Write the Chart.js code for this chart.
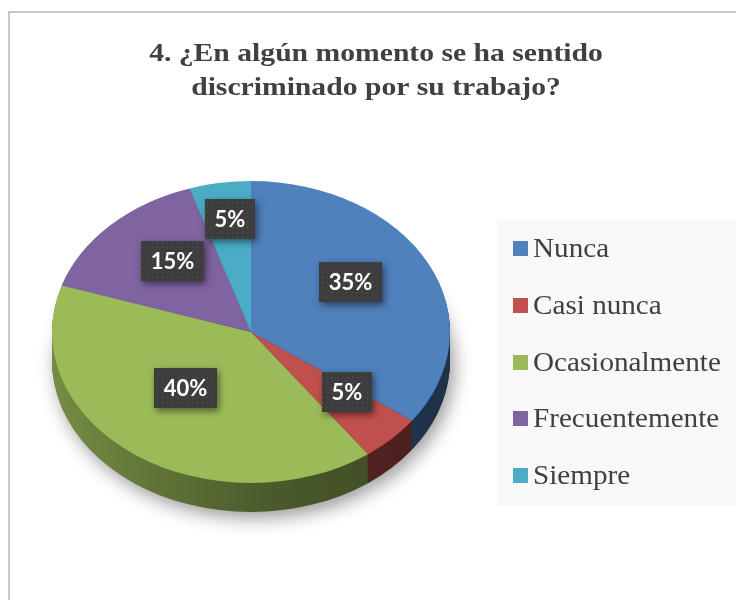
<!DOCTYPE html>
<html>
<head>
<meta charset="utf-8">
<script src="https://cdn.jsdelivr.net/npm/chart.js@4.4.0/dist/chart.umd.min.js"></script>
<style>
  html, body { margin: 0; padding: 0; background: #fff; }
  #wrap { width: 736px; height: 600px; }
</style>
</head>
<body>
<div id="wrap"><canvas id="mycanvas" width="736" height="600"></canvas></div>
<script>
var titleLines = ['4. ¿En algún momento se ha sentido', 'discriminado por su trabajo?'];
var categories = ['Nunca', 'Casi nunca', 'Ocasionalmente', 'Frecuentemente', 'Siempre'];
var percentages = [35, 5, 40, 15, 5];
var sliceColors = ['#4f81bd', '#c0504d', '#9bbb59', '#8064a2', '#4bacc6'];

// where the tilted pie sits on the page
var pieX = 251, pieY = 332, radX = 199, radY = 151, depth = 29;

function shade(hex, f) {
  var n = parseInt(hex.slice(1), 16);
  var r = Math.round(((n >> 16) & 255) * f);
  var g = Math.round(((n >> 8) & 255) * f);
  var b = Math.round((n & 255) * f);
  return 'rgb(' + r + ',' + g + ',' + b + ')';
}

function pieTransform(ctx, arc, dy) {
  ctx.translate(pieX, pieY + dy);
  ctx.scale(radX / arc.outerRadius, radY / arc.outerRadius);
  ctx.translate(-arc.x, -arc.y);
}

// little dotted texture of the label boxes
var dots = document.createElement('canvas');
dots.width = 5; dots.height = 5;
var dctx = dots.getContext('2d');
dctx.fillStyle = '#3d3d3d';
dctx.fillRect(0, 0, 5, 5);
dctx.fillStyle = '#555555';
dctx.fillRect(2, 2, 1, 1);

var tiltPlugin = {
  id: 'tilt',
  beforeDraw: function(chart) {
    var ctx = chart.ctx;
    ctx.save();
    ctx.fillStyle = '#fff';
    ctx.fillRect(0, 0, chart.width, chart.height);
    ctx.strokeStyle = '#c8c8c8';
    ctx.lineWidth = 2;
    ctx.strokeRect(9, 12, 800, 700);

    // title
    ctx.fillStyle = '#404040';
    ctx.font = 'bold 26px "Liberation Serif"';
    ctx.textAlign = 'center';
    ctx.textBaseline = 'alphabetic';
    titleLines.forEach(function(t, i) {
      ctx.save();
      ctx.translate(376, 61 + i * 33.5);
      ctx.scale(1.14, 1);
      ctx.fillText(t, 0, 0);
      ctx.restore();
    });
    ctx.restore();
  },
  beforeDatasetsDraw: function(chart) {
    var ctx = chart.ctx;
    var arcs = chart.getDatasetMeta(0).data;
    var a0 = arcs[0];
    for (var d = depth; d >= 1; d--) {
      ctx.save();
      pieTransform(ctx, a0, d);
      if (d === depth) {
        ctx.shadowColor = 'rgba(0,0,0,0.4)';
        ctx.shadowBlur = 18;
        ctx.shadowOffsetY = 6;
        ctx.shadowOffsetX = 4;
      }
      arcs.forEach(function(arc, i) {
        var g = ctx.createLinearGradient(a0.x - a0.outerRadius, 0, a0.x + a0.outerRadius, 0);
        g.addColorStop(0, shade(sliceColors[i], 0.75));
        g.addColorStop(0.55, shade(sliceColors[i], 0.48));
        g.addColorStop(1, shade(sliceColors[i], 0.38));
        var saved = arc.options;
        arc.options = Object.assign({}, saved, {backgroundColor: g, borderWidth: 0});
        arc.draw(ctx);
        arc.options = saved;
      });
      ctx.restore();
    }
    ctx.save();
    pieTransform(ctx, a0, 0);
  },
  afterDatasetsDraw: function(chart) {
    var ctx = chart.ctx;
    ctx.restore();

    var arcs = chart.getDatasetMeta(0).data;
    var total = percentages.reduce(function(a, b) { return a + b; }, 0);
    arcs.forEach(function(arc, i) {
      var mid = (arc.startAngle + arc.endAngle) / 2;
      var share = percentages[i] / total;
      // thin slices get their label pushed further out
      var f = share < 0.1 ? 0.68 : 0.56;
      var x = pieX + f * radX * Math.cos(mid);
      var y = pieY - 12 + f * 150 * Math.sin(mid);
      var txt = Math.round(share * 100) + '%';
      ctx.save();
      ctx.font = 'bold 22px Lato';
      var w = Math.round(ctx.measureText(txt).width + 19), h = 40;
      var bx = Math.round(x - w / 2), by = Math.round(y - h / 2);
      ctx.shadowColor = 'rgba(0,0,0,0.5)';
      ctx.shadowBlur = 7;
      ctx.shadowOffsetX = 2;
      ctx.shadowOffsetY = 3;
      ctx.fillStyle = '#3d3d3d';
      ctx.fillRect(bx, by, w, h);
      ctx.shadowColor = 'transparent';
      ctx.fillStyle = ctx.createPattern(dots, 'repeat');
      ctx.fillRect(bx, by, w, h);
      ctx.fillStyle = '#ffffff';
      ctx.textAlign = 'center';
      ctx.textBaseline = 'middle';
      ctx.fillText(txt, bx + w / 2, by + h / 2 + 1);
      ctx.restore();
    });
  },
  afterDraw: function(chart) {
    var ctx = chart.ctx;
    ctx.save();
    ctx.fillStyle = '#f8f8f8';
    ctx.fillRect(497, 219, 239, 287);
    categories.forEach(function(c, i) {
      var base = 256 + i * 56.8;
      ctx.fillStyle = sliceColors[i];
      ctx.fillRect(513, Math.round(base - 15), 15, 15);
      ctx.fillStyle = '#404040';
      ctx.font = '27px "Liberation Serif"';
      ctx.textAlign = 'left';
      ctx.textBaseline = 'alphabetic';
      ctx.save();
      ctx.translate(533, base + 1);
      ctx.scale(1.08, 1);
      ctx.fillText(c, 0, 0);
      ctx.restore();
    });
    ctx.restore();
  }
};

var chartdata = {
  labels: categories,
  datasets: [
    {
      data: percentages,
      backgroundColor: sliceColors,
      borderWidth: 0,
      clip: false
    }
  ]
};

var ctx = document.getElementById('mycanvas');
var PieChart = new Chart(ctx, {
  type: 'pie',
  data: chartdata,
  options: {
    responsive: false,
    devicePixelRatio: 1,
    animation: false,
    events: [],
    layout: { padding: { top: 120, left: 20, right: 300, bottom: 20 } },
    plugins: {
      legend: { display: false },
      title: { display: false },
      tooltip: { enabled: false }
    }
  },
  plugins: [tiltPlugin]
});
</script>
</body>
</html>
